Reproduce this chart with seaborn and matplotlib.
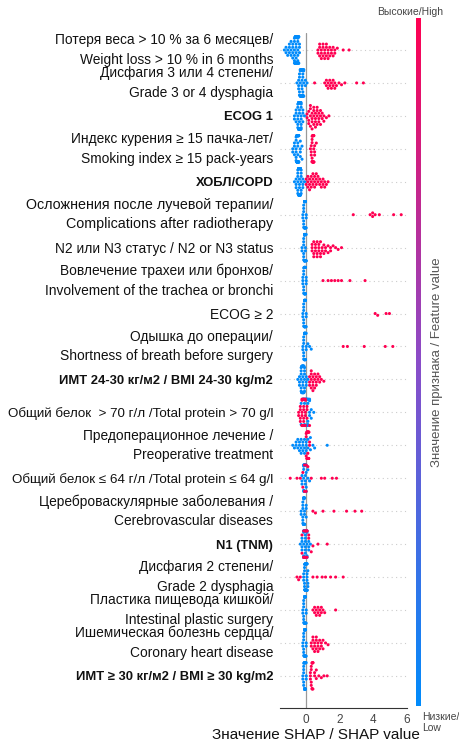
import numpy as np
import pandas as pd
import seaborn as sns
import matplotlib.pyplot as plt
from matplotlib.colors import LinearSegmentedColormap
from matplotlib.cm import ScalarMappable

# feature labels (top to bottom)
features = [
    'Потеря веса > 10 % за 6 месяцев/\nWeight loss > 10 % in 6 months',
    'Дисфагия 3 или 4 степени/\nGrade 3 or 4 dysphagia',
    'ECOG 1',
    'Индекс курения ≥ 15 пачка-лет/\nSmoking index ≥ 15 pack-years',
    'ХОБЛ/COPD',
    'Осложнения после лучевой терапии/\nComplications after radiotherapy',
    'N2 или N3 статус / N2 or N3 status',
    'Вовлечение трахеи или бронхов/\nInvolvement of the trachea or bronchi',
    'ECOG ≥ 2',
    'Одышка до операции/\nShortness of breath before surgery',
    'ИМТ 24-30 кг/м2 / BMI 24-30 kg/m2',
    'Общий белок  > 70 г/л /Total protein > 70 g/l',
    'Предоперационное лечение /\nPreoperative treatment',
    'Общий белок ≤ 64 г/л /Total protein ≤ 64 g/l',
    'Цереброваскулярные заболевания /\nCerebrovascular diseases',
    'N1 (TNM)',
    'Дисфагия 2 степени/\nGrade 2 dysphagia',
    'Пластика пищевода кишкой/\nIntestinal plastic surgery',
    'Ишемическая болезнь сердца/\nCoronary heart disease',
    'ИМТ ≥ 30 кг/м2 / BMI ≥ 30 kg/m2',
]
bold_rows = [2, 4, 10, 15, 19]
long_rows = [11, 13]

# (shap value, number of patients) for low feature values
low_pts = [
    [(-1.3, 1), (-1.2, 2), (-1.1, 2), (-1.0, 3), (-0.9, 3), (-0.8, 4), (-0.7, 6), (-0.65, 8), (-0.6, 12), (-0.55, 16), (-0.5, 14), (-0.45, 7), (-0.4, 3)],
    [(-0.55, 1), (-0.45, 3), (-0.4, 4), (-0.35, 7), (-0.3, 12), (-0.25, 16), (-0.2, 12), (-0.15, 6), (-0.05, 2), (0.05, 1)],
    [(-0.7, 2), (-0.6, 3), (-0.5, 6), (-0.45, 10), (-0.4, 15), (-0.35, 14), (-0.3, 8), (-0.2, 3), (-0.1, 1)],
    [(-0.8, 2), (-0.7, 3), (-0.6, 6), (-0.55, 11), (-0.5, 14), (-0.45, 10), (-0.35, 4), (-0.25, 2)],
    [(-0.7, 1), (-0.6, 3), (-0.5, 6), (-0.45, 10), (-0.4, 15), (-0.35, 12), (-0.3, 6), (-0.2, 3), (-0.1, 1)],
    [(-0.2, 2), (-0.15, 6), (-0.1, 10), (-0.05, 7), (0.0, 3)],
    [(-0.25, 2), (-0.15, 6), (-0.1, 10), (-0.05, 7), (0.0, 3)],
    [(-0.2, 3), (-0.15, 6), (-0.1, 10), (-0.05, 7), (0.0, 3)],
    [(-0.2, 2), (-0.15, 6), (-0.1, 10), (-0.05, 7), (0.0, 3)],
    [(-0.2, 2), (-0.15, 6), (-0.1, 10), (-0.05, 6), (0.0, 3), (0.1, 1), (0.2, 1), (0.3, 1)],
    [(-0.5, 1), (-0.4, 3), (-0.3, 6), (-0.25, 9), (-0.2, 13), (-0.15, 10), (-0.1, 6), (0.0, 3), (0.1, 1)],
    [(-0.3, 2), (-0.2, 4), (-0.1, 6), (0.0, 7), (0.1, 6), (0.2, 4), (0.3, 2), (0.45, 1)],
    [(-0.8, 1), (-0.7, 1), (-0.6, 2), (-0.5, 2), (-0.4, 3), (-0.3, 3), (-0.2, 3), (-0.1, 3), (0.0, 3), (0.1, 2), (0.25, 2), (0.4, 1), (0.5, 1), (1.25, 1)],
    [(-0.25, 3), (-0.15, 7), (-0.1, 12), (-0.05, 9), (0.0, 4), (0.1, 2), (0.2, 1)],
    [(-0.3, 2), (-0.2, 6), (-0.15, 11), (-0.1, 8), (0.0, 3)],
    [(-0.35, 1), (-0.25, 4), (-0.15, 7), (-0.1, 9), (-0.05, 8), (0.05, 5), (0.15, 3), (0.25, 1)],
    [(-0.15, 3), (-0.1, 6), (-0.05, 10), (0.0, 12), (0.05, 8), (0.1, 3)],
    [(-0.2, 2), (-0.15, 6), (-0.1, 11), (-0.05, 8), (0.0, 3)],
    [(-0.2, 2), (-0.15, 6), (-0.1, 11), (-0.05, 8), (0.0, 3)],
    [(-0.2, 2), (-0.15, 6), (-0.1, 11), (-0.05, 8), (0.0, 3)],
]

# (shap value, number of patients) for high feature values
high_pts = [
    [(0.7, 2), (0.8, 3), (0.9, 3), (1.0, 3), (1.1, 3), (1.2, 3), (1.3, 3), (1.4, 2), (1.5, 2), (1.6, 2), (1.7, 2), (1.85, 1), (2.2, 1), (2.55, 1)],
    [(0.5, 1), (1.1, 1), (1.2, 2), (1.3, 2), (1.4, 2), (1.5, 2), (1.6, 2), (1.7, 2), (1.8, 1), (1.95, 1), (2.1, 1), (2.3, 1), (3.0, 1), (3.4, 1)],
    [(0.05, 2), (0.15, 3), (0.25, 4), (0.35, 4), (0.45, 4), (0.55, 4), (0.65, 4), (0.75, 3), (0.85, 3), (0.95, 2), (1.05, 2), (1.2, 1), (1.35, 1)],
    [(0.25, 1), (0.3, 3), (0.35, 6), (0.4, 9), (0.45, 6), (0.5, 3), (0.6, 1)],
    [(0.0, 2), (0.1, 3), (0.2, 3), (0.3, 3), (0.4, 3), (0.5, 3), (0.6, 3), (0.7, 2), (0.8, 2), (0.9, 2), (1.0, 2), (1.1, 2), (1.2, 1), (1.3, 1)],
    [(2.8, 1), (3.8, 1), (3.95, 2), (4.1, 1), (4.35, 1), (5.2, 1), (5.65, 1)],
    [(0.35, 3), (0.45, 3), (0.55, 3), (0.65, 3), (0.75, 3), (0.85, 3), (0.95, 2), (1.05, 2), (1.15, 2), (1.3, 2), (1.45, 2), (1.6, 1), (1.75, 1), (1.9, 1), (2.1, 1)],
    [(1.0, 1), (1.3, 1), (1.5, 1), (1.7, 1), (1.9, 1), (2.1, 1), (2.6, 1), (3.5, 1)],
    [(4.1, 1), (4.25, 1), (4.75, 1), (4.95, 1)],
    [(2.2, 1), (2.45, 1), (3.45, 1), (4.7, 1), (5.15, 1)],
    [(0.2, 3), (0.3, 4), (0.4, 4), (0.5, 3), (0.6, 3), (0.7, 2), (0.8, 2), (0.9, 1), (1.05, 1)],
    [(-0.45, 2), (-0.35, 4), (-0.25, 6), (-0.15, 7), (-0.05, 5), (0.05, 3), (0.2, 1)],
    [(0.0, 3), (0.05, 6), (0.1, 8), (0.15, 5), (0.2, 2)],
    [(-0.95, 1), (-0.55, 1), (-0.35, 1), (-0.2, 2), (-0.1, 2), (0.0, 2), (0.1, 1), (0.3, 1), (0.9, 1), (1.1, 1), (1.55, 1), (1.8, 1)],
    [(0.4, 1), (0.55, 1), (1.0, 1), (1.65, 1), (2.4, 1), (2.9, 1), (3.3, 1)],
    [(-0.25, 2), (-0.15, 3), (-0.05, 4), (0.05, 3), (0.15, 2), (0.3, 1), (0.4, 1), (0.7, 1), (1.25, 1)],
    [(-0.55, 1), (-0.45, 1), (-0.35, 1), (0.4, 1), (0.65, 1), (0.95, 1), (1.15, 1), (1.45, 1), (1.75, 1), (2.2, 1)],
    [(0.4, 1), (0.5, 2), (0.6, 2), (0.7, 2), (0.8, 2), (0.9, 2), (1.0, 1), (1.1, 1), (1.75, 1)],
    [(0.3, 2), (0.4, 3), (0.5, 3), (0.6, 3), (0.7, 3), (0.8, 2), (0.9, 2), (1.0, 2), (1.15, 1), (1.3, 1)],
    [(0.25, 3), (0.3, 4), (0.35, 4), (0.4, 3), (0.5, 2), (0.6, 2), (0.75, 1), (0.9, 1), (1.05, 1), (1.25, 1)],
]

x_ticks = [0, 2, 4, 6]

rows = []
for feat, lows, highs in zip(features, low_pts, high_pts):
    for level, pts in (('Low', lows), ('High', highs)):
        for v, n in pts:
            rows += [(feat, v, level)] * n
df = pd.DataFrame(rows, columns=['feature', 'shap', 'level'])

sns.set_style('white')
plt.rcParams['font.family'] = ['Liberation Sans', 'DejaVu Sans']

fig = plt.figure(figsize=(4.6, 7.47), dpi=100)
ax = fig.add_axes([0.609, 0.052, 0.276, 0.904])

for i in range(len(features)):
    ax.axhline(i, color='#cccccc', lw=0.8, dashes=(1, 3), zorder=-1)
ax.axvline(0, color='#999999', lw=0.9, zorder=-1)

sns.swarmplot(data=df, x='shap', y='feature', hue='level', order=features,
              palette={'High': '#ff0051', 'Low': '#008bfb'}, size=2.2,
              linewidth=0, orient='h', legend=False, ax=ax)

ax.set_xlim(-1.55, 6.0)
ax.set_ylim(19.98, -0.52)
ax.set_xticks(x_ticks)
ax.set_xticklabels([str(t) for t in x_ticks], fontsize=8.5, color='#444444')
ax.tick_params(axis='x', length=3, color='#333333', pad=1)
ax.tick_params(axis='y', length=0, pad=5)
for i, lab in enumerate(ax.get_yticklabels()):
    if i in bold_rows:
        lab.set_fontsize(9.4)
        lab.set_fontweight('bold')
    elif i in long_rows:
        lab.set_fontsize(9.6)
    elif i == 5:
        lab.set_fontsize(10.3)
    else:
        lab.set_fontsize(9.9)
    lab.set_linespacing(1.5)
    lab.set_color('#111111')
    if '\n' in lab.get_text():
        lab.set_verticalalignment('center')
for s in ['top', 'right', 'left']:
    ax.spines[s].set_visible(False)
ax.spines['bottom'].set_color('#333333')
ax.set_ylabel('')
ax.set_xlabel('Значение SHAP / SHAP value', fontsize=11, color='#111111')
ax.xaxis.set_label_coords(0.28, -0.03)

# colour bar
cmap = LinearSegmentedColormap.from_list('shap_rb', ['#008bfb', '#8a4cc8', '#ff0051'])
cax = fig.add_axes([0.904, 0.055, 0.011, 0.921])
cb = fig.colorbar(ScalarMappable(cmap=cmap), cax=cax)
cb.outline.set_visible(False)
cb.set_ticks([])
fig.text(0.891, 0.984, 'Высокие/High', ha='center', va='center', fontsize=7.5, color='#444444')
fig.text(0.917, 0.047, 'Низкие/\nLow', ha='left', va='top', fontsize=7.5, color='#444444')
fig.text(0.95, 0.515, 'Значение признака / Feature value', rotation=90,
         ha='center', va='center', fontsize=9.5, color='#555555')

fig.savefig('out.png', dpi=100)
